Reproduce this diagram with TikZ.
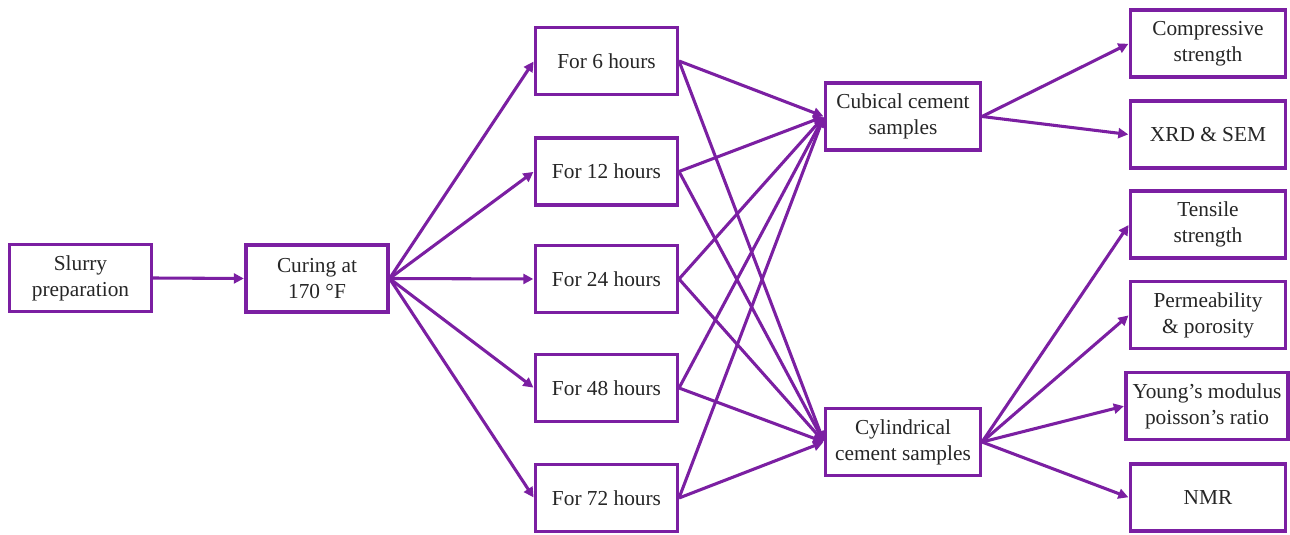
\documentclass[tikz,border=0pt]{standalone}
\usepackage{fontspec}
\setmainfont{Liberation Serif}
\usetikzlibrary{arrows.meta}
\definecolor{pur}{HTML}{7B1FA2}
\begin{document}
\begin{tikzpicture}[x=0.75pt,y=-0.75pt,
  bx/.style={draw=pur, line width=2.3pt, fill=white, minimum width=#1*0.75pt, minimum height=67*0.75pt,
    inner sep=0pt, align=center, font=\fontsize{16}{19.5}\selectfont, text=black!85},
  bx/.default=142,
  ar/.style={draw=pur, line width=2.3pt, -{Triangle[length=7.5pt,width=7.5pt]}, shorten >=0.5pt}]
\useasboundingbox (0,0) rectangle (1290,535);
\node[bx] (slurry) at (80.5,278) {Slurry\\preparation};
\node[bx] (curing) at (317,278.5) {Curing at\\170 °F};
\node[bx] (h6) at (606.5,61) {For 6 hours};
\node[bx] (h12) at (606.5,171.5) {For 12 hours};
\node[bx] (h24) at (606.5,279) {For 24 hours};
\node[bx] (h48) at (606.5,388) {For 48 hours};
\node[bx] (h72) at (606.5,498) {For 72 hours};
\node[bx=155] (cub) at (903,116.5) {Cubical cement\\samples};
\node[bx=155] (cyl) at (903,442) {Cylindrical\\cement samples};
\node[bx=155] (comp) at (1208,43.5) {Compressive\\strength};
\node[bx=155] (xrd) at (1208,134.5) {XRD \& SEM};
\node[bx=155] (tens) at (1208,224.5) {Tensile\\strength};
\node[bx=155] (perm) at (1208,315) {Permeability\\\& porosity};
\node[bx=162] (young) at (1207,406) {Young’s modulus\\poisson’s ratio};
\node[bx=155] (nmr) at (1208,497.5) {NMR};
\draw[ar] (slurry.east) -- (curing.west);
\foreach \h in {h6,h12,h24,h48,h72}{
  \draw[ar] (curing.east) -- (\h.west);
}
\foreach \h in {h6,h12,h24,h48,h72}{
  \draw[ar] (\h.east) -- (cub.west);
  \draw[ar] (\h.east) -- (cyl.west);
}
\draw[ar] (cub.east) -- (comp.west);
\draw[ar] (cub.east) -- (xrd.west);
\foreach \t in {tens,perm,young,nmr}{
  \draw[ar] (cyl.east) -- (\t.west);
}
\end{tikzpicture}
\end{document}
